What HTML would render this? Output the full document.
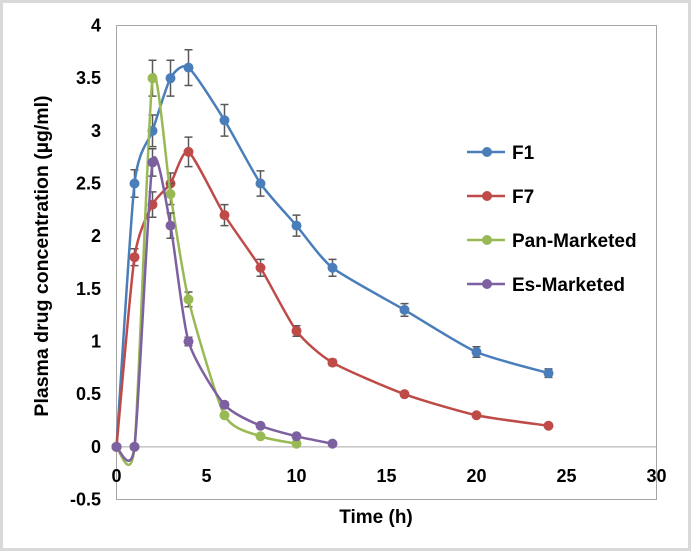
<!DOCTYPE html>
<html><head><meta charset="utf-8"><style>
body{margin:0;background:#fff}
svg{display:block;font-family:"Liberation Sans",Arial,sans-serif;font-weight:bold}
</style></head><body>
<svg width="692" height="553" viewBox="0 0 692 553">
<rect x="1.5" y="1.5" width="688" height="548" fill="#fff" stroke="#d9d9d9" stroke-width="3"/>
<rect x="116.5" y="25.5" width="540" height="474" fill="none" stroke="#a6a6a6"/>
<g id="axes"></g>
<g id="series"></g>
<text x="376" y="523" text-anchor="middle" font-size="19">Time (h)</text>
<text transform="translate(48,256) rotate(-90)" text-anchor="middle" font-size="19.5">Plasma drug concentration (µg/ml)</text>
<g id="legend"></g>
</svg>
<script>
const xTicks=[0,5,10,15,20,25,30];
const yTicks=[-0.5,0,0.5,1,1.5,2,2.5,3,3.5,4];
const seriesNames=["F1","F7","Pan-Marketed","Es-Marketed"];
const seriesColors=["#4a7ebb","#be4b48","#98b954","#7d60a0"];
const f1X=[0,1,2,3,4,6,8,10,12,16,20,24];
const f1Y=[0,2.5,3.0,3.5,3.6,3.1,2.5,2.1,1.7,1.3,0.9,0.7];
const f1Err=[0,0.13,0.15,0.17,0.17,0.15,0.12,0.1,0.08,0.06,0.05,0.04];
const f7X=[0,1,2,3,4,6,8,10,12,16,20,24];
const f7Y=[0,1.8,2.3,2.5,2.8,2.2,1.7,1.1,0.8,0.5,0.3,0.2];
const f7Err=[0,0.08,0.12,0.1,0.14,0.1,0.08,0.05,0.03,0,0,0];
const panX=[0,1,2,3,4,6,8,10];
const panY=[0,0,3.5,2.4,1.4,0.3,0.1,0.03];
const panErr=[0,0,0.17,0.1,0.07,0,0,0];
const esX=[0,1,2,3,4,6,8,10,12];
const esY=[0,0,2.7,2.1,1.0,0.4,0.2,0.1,0.03];
const esErr=[0,0,0.13,0.12,0.04,0,0,0,0];
const X0=116.5,X1=656.5,Y0=499.5,Y1=25.5;
const xs=v=>X0+(v-0)/(30-0)*(X1-X0);
const ys=v=>Y0-(v+0.5)/(4.5)*(Y0-Y1);
const NS="http://www.w3.org/2000/svg";
function mk(t,a,p){const e=document.createElementNS(NS,t);for(const k in a)e.setAttribute(k,a[k]);p.appendChild(e);return e;}
const axes=document.getElementById('axes');
const zl=mk('line',{x1:X0,x2:X1,y1:ys(0),y2:ys(0),stroke:'#a6a6a6'},axes);


xTicks.forEach(t=>{const e=mk('text',{x:xs(t),y:ys(0)+35,'text-anchor':'middle','font-size':18},axes);e.textContent=t;

});
yTicks.forEach(t=>{const e=mk('text',{x:101,y:ys(t)+6,'text-anchor':'end','font-size':18},axes);e.textContent=t;

});
function path(px,py){let d=`M${px[0]},${py[0]}`;const n=px.length,t=0.22;
for(let i=0;i<n-1;i++){const p0=i?i-1:i,p3=i+2<n?i+2:i+1;
const c1x=px[i]+(px[i+1]-px[p0])*t/2,c1y=py[i]+(py[i+1]-py[p0])*t/2;
const c2x=px[i+1]-(px[p3]-px[i])*t/2,c2y=py[i+1]-(py[p3]-py[i])*t/2;
d+=`C${c1x},${c1y} ${c2x},${c2y} ${px[i+1]},${py[i+1]}`;}return d;}
const sg=document.getElementById('series');
const all=[[f1X,f1Y,f1Err],[f7X,f7Y,f7Err],[panX,panY,panErr],[esX,esY,esErr]];
all.forEach((s,k)=>{const g=mk('g',{},sg);


const c=seriesColors[k];
s[0].forEach((x,i)=>{if(s[2][i]>0){const cx=xs(x),a=ys(s[1][i]+s[2][i]),b=ys(s[1][i]-s[2][i]);
mk('path',{d:`M${cx},${a}V${b}M${cx-4},${a}H${cx+4}M${cx-4},${b}H${cx+4}`,stroke:'#595959','stroke-width':1.5,fill:'none'},g);}});
const ln=mk('path',{d:path(s[0].map(xs),s[1].map(ys)),fill:'none',stroke:c,'stroke-width':2.5},g);


s[0].forEach((x,i)=>{const p=mk('circle',{cx:xs(x),cy:ys(s[1][i]),r:5,fill:c},g);

});});
const lg=document.getElementById('legend');
seriesNames.forEach((n,k)=>{const y=152+k*44;const g=mk('g',{},lg);


mk('line',{x1:467,x2:505,y1:y,y2:y,stroke:seriesColors[k],'stroke-width':2.5},g);
mk('circle',{cx:487,cy:y,r:5,fill:seriesColors[k]},g);
const t=mk('text',{x:512,y:y+7,'font-size':19},g);t.textContent=n;});
</script>
</body></html>
